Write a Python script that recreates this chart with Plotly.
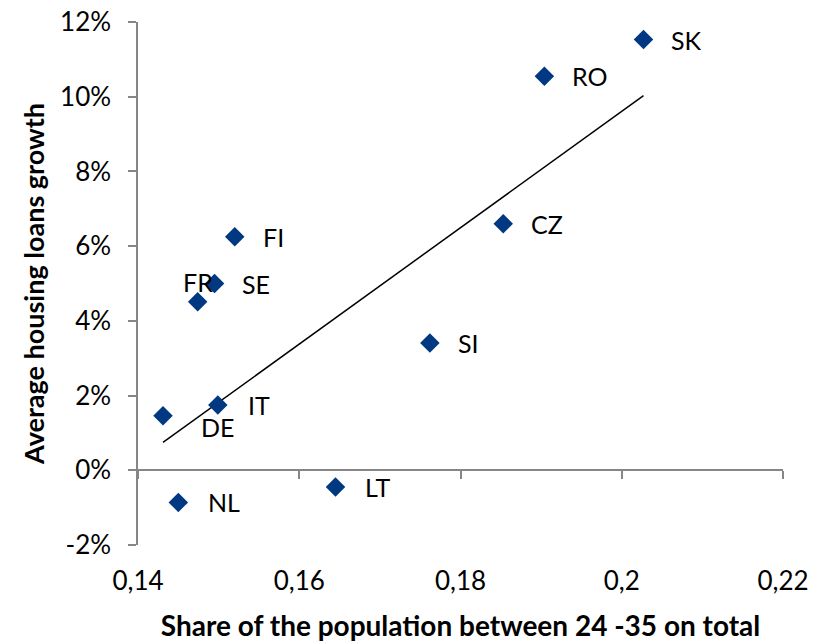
import plotly.graph_objects as go

countries = ["SK", "RO", "CZ", "FI", "SE", "FR", "SI", "IT", "DE", "NL", "LT"]
share_24_35 = [0.2027, 0.1904, 0.1853, 0.1520, 0.1495, 0.1474, 0.1762, 0.1499, 0.1431, 0.1450, 0.1645]
loan_growth = [11.53, 10.55, 6.60, 6.25, 5.00, 4.51, 3.41, 1.75, 1.46, -0.86, -0.45]

trend_x = [0.1431, 0.2027]
trend_y = [0.745, 10.03]

x_tickvals = [0.14, 0.16, 0.18, 0.20, 0.22]
x_ticktext = ["0,14", "0,16", "0,18", "0,2", "0,22"]
y_tickvals = [-2, 0, 2, 4, 6, 8, 10, 12]
y_ticktext = ["-2%", "0%", "2%", "4%", "6%", "8%", "10%", "12%"]

# label offsets (pixels) relative to each point: (xshift, yshift)
label_offsets = {
    "SK": (25, 0), "RO": (26, 0), "CZ": (26, 0), "FI": (26, 0), "SE": (25, 0),
    "FR": (-17, 20), "SI": (26, 0), "IT": (28, 0), "DE": (36, -11),
    "NL": (28, 0), "LT": (27, 0),
}

FONT = "Lato"
AXIS_GRAY = "#868686"
MARKER = "#003882"

fig = go.Figure()
fig.add_trace(go.Scatter(
    x=trend_x, y=trend_y, mode="lines",
    line=dict(color="black", width=1.5), hoverinfo="skip", showlegend=False,
))
fig.add_trace(go.Scatter(
    x=share_24_35, y=loan_growth, mode="markers",
    marker=dict(symbol="diamond", size=15, color=MARKER),
    showlegend=False,
))
# invisible trace for the zero-crossing axis
fig.add_trace(go.Scatter(
    x=[x_tickvals[0]], y=[0], xaxis="x2", mode="markers",
    marker=dict(opacity=0), hoverinfo="skip", showlegend=False,
))

for c, xv, yv in zip(countries, share_24_35, loan_growth):
    dx, dy = label_offsets[c]
    fig.add_annotation(
        x=xv, y=yv, text=c, showarrow=False, xanchor="left", yanchor="middle",
        xshift=dx, yshift=dy, font=dict(family=FONT, size=25, color="black"),
    )

ymin, ymax = -2, 12
fig.update_layout(
    width=825, height=642,
    margin=dict(l=138, r=42, t=22, b=97),
    paper_bgcolor="white", plot_bgcolor="white",
    font=dict(family=FONT, color="black"),
    xaxis=dict(
        range=[0.14, 0.22], tickvals=x_tickvals, ticktext=x_ticktext,
        showline=False, showgrid=False, zeroline=False, automargin=False,
        ticks="outside", ticklen=13, tickcolor="rgba(0,0,0,0)",
        tickfont=dict(family=FONT, size=26),
        title=dict(text="<b>Share of the population between 24 -35 on total</b>",
                   font=dict(family=FONT, size=28), standoff=22),
    ),
    xaxis2=dict(
        range=[0.14, 0.22], tickvals=x_tickvals, overlaying="x", anchor="free",
        position=(0 - ymin) / (ymax - ymin), automargin=False,
        showline=True, linecolor=AXIS_GRAY, linewidth=1.5,
        ticks="outside", ticklen=8, tickcolor=AXIS_GRAY, tickwidth=1.5,
        showticklabels=False, showgrid=False, zeroline=False,
    ),
    yaxis=dict(
        range=[ymin, ymax], tickvals=y_tickvals, ticktext=y_ticktext,
        showline=True, linecolor=AXIS_GRAY, linewidth=1.5, automargin=False,
        ticks="outside", ticklen=8, tickcolor=AXIS_GRAY, tickwidth=1.5,
        showgrid=False, zeroline=False,
        tickfont=dict(family=FONT, size=26), ticklabelstandoff=12,
        title=dict(text="<b>Average housing loans growth</b>",
                   font=dict(family=FONT, size=27), standoff=8),
    ),
)

fig.write_html("out.html")
